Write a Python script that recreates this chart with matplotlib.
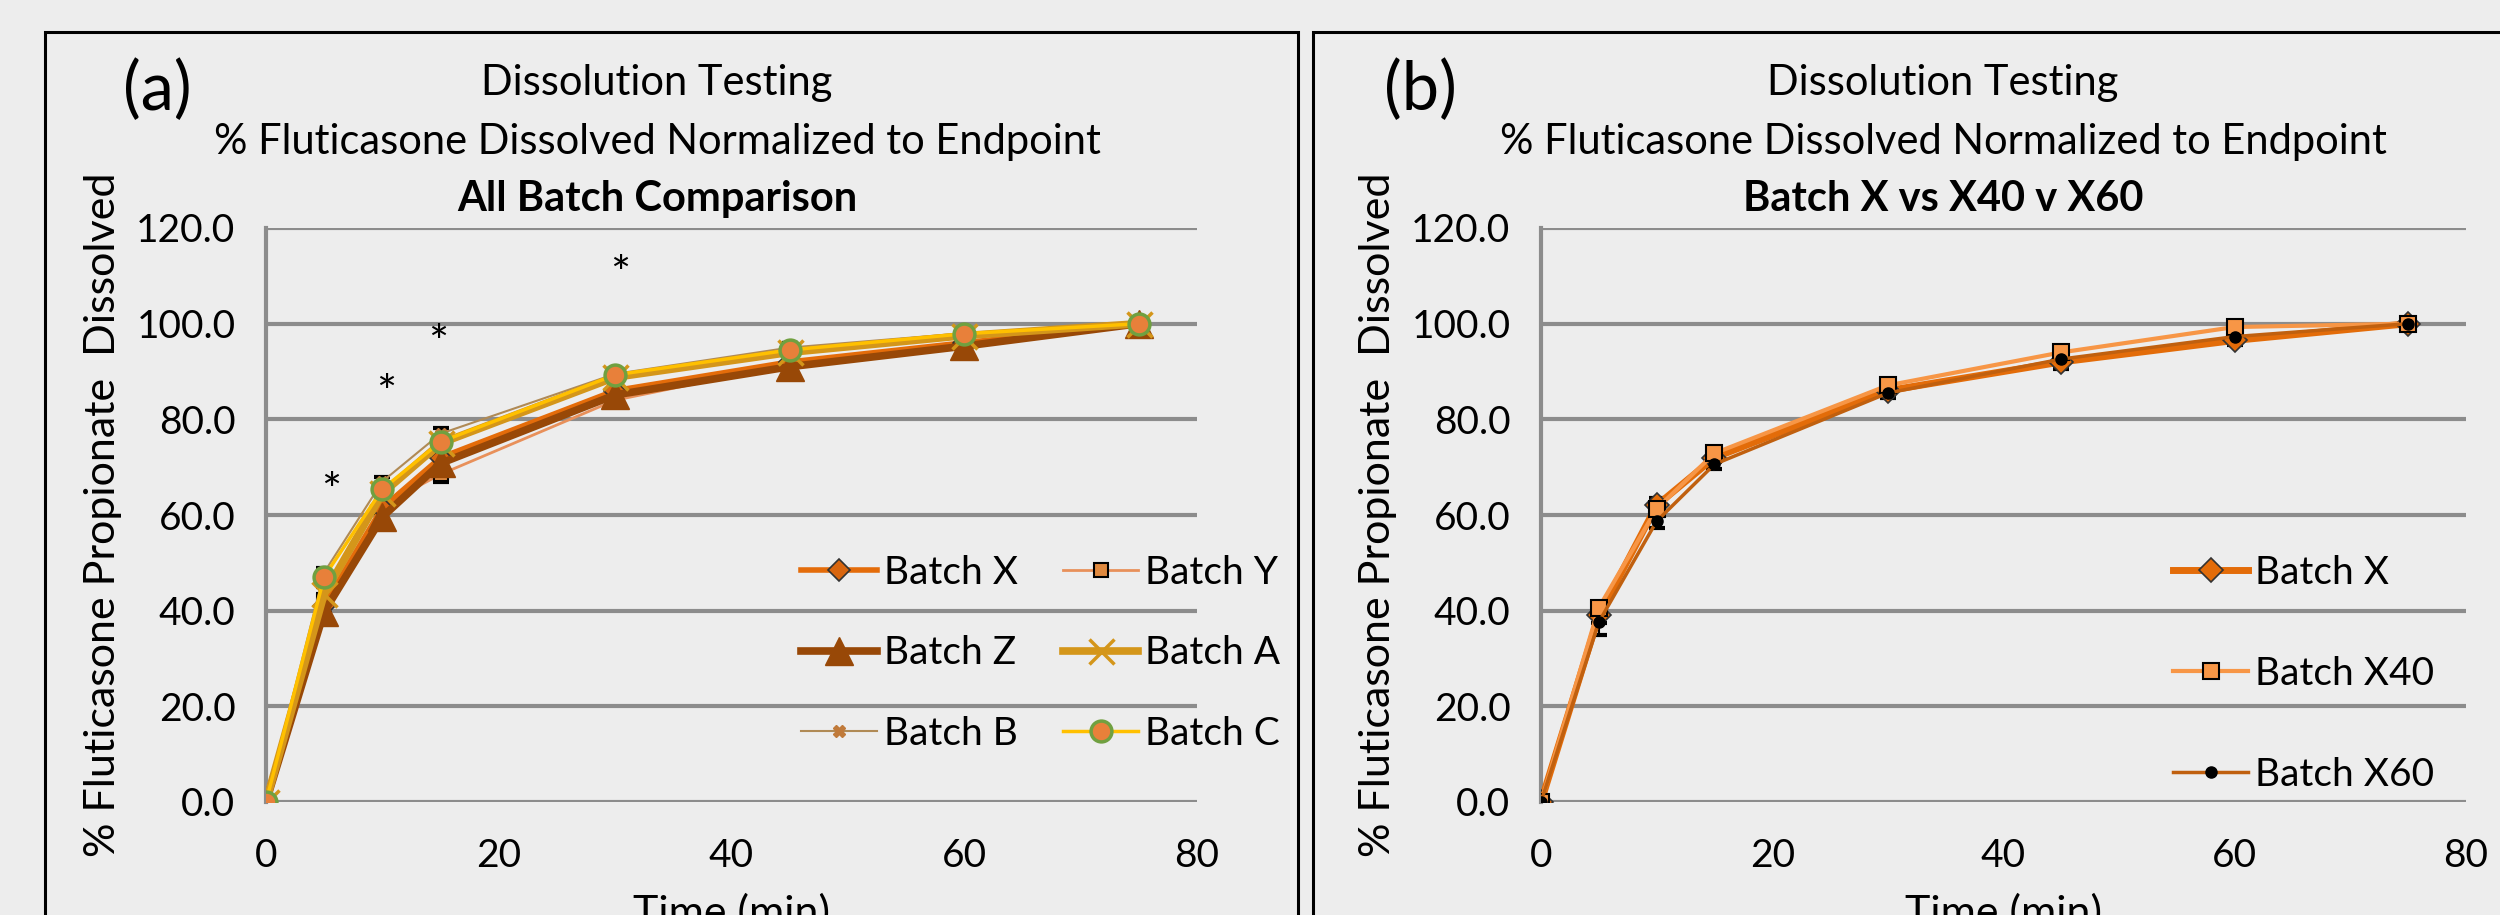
import matplotlib.pyplot as plt
from matplotlib.patches import Rectangle

plt.rcParams['font.family'] = ['Lato', 'DejaVu Sans']

# ---- data ----
time_min = [0, 5, 10, 15, 30, 45, 60, 75]

# panel (a): all batches
batch_x = [0, 41.0, 61.5, 72.0, 86.0, 92.0, 96.0, 100.0]
batch_y = [0, 42.0, 62.0, 68.5, 84.0, 91.5, 95.0, 100.0]
batch_z = [0, 39.8, 59.6, 70.8, 85.1, 91.0, 95.3, 100.0]
batch_a = [0, 43.5, 64.5, 75.0, 88.8, 94.0, 97.5, 100.0]
batch_b = [0, 48.0, 67.0, 77.0, 89.5, 95.0, 98.0, 100.0]
batch_c = [0, 47.1, 65.4, 75.3, 89.3, 94.5, 97.9, 100.0]
err_x = [0, 1.5, 1.0, 1.0, 1.0, 1.0, 0.8, 0]
err_y = [0, 1.5, 1.5, 1.5, 1.0, 1.0, 0.8, 0]
err_z = [0, 2.5, 1.0, 1.5, 1.0, 1.0, 0.8, 0]
err_a = [0, 1.5, 1.0, 1.0, 1.0, 1.0, 0.8, 0]
err_b = [0, 1.0, 1.0, 1.2, 1.0, 1.0, 0.8, 0]
err_c = [0, 1.5, 1.2, 1.2, 1.2, 1.5, 0.8, 0]
# significance asterisks
star_x = [5.6, 10.3, 14.8, 30.4]
star_y = [64.5, 85.0, 95.5, 110.0]

# panel (b): Batch X vs X40 vs X60
b_batch_x = [0, 39.0, 62.0, 72.0, 86.0, 92.0, 96.5, 100.0]
b_batch_x40 = [0, 40.6, 61.3, 72.9, 87.1, 94.0, 99.3, 100.0]
b_batch_x60 = [0, 37.6, 58.7, 70.6, 85.5, 92.6, 97.3, 100.0]
b_err_x = [0, 1.5, 1.5, 1.0, 1.0, 1.5, 1.0, 0]
b_err_x40 = [0, 1.0, 1.5, 1.0, 1.0, 1.0, 0.8, 0]
b_err_x60 = [0, 2.7, 1.5, 1.0, 1.0, 1.0, 0.8, 0]

y_ticks = [0, 20, 40, 60, 80, 100, 120]
x_ticks = [0, 20, 40, 60, 80]

bg = '#ededed'
grid_c = '#8c8c8c'
fs = 28        # ticks / legend
fs_title = 30
fs_lab = 31

fig = plt.figure(figsize=(25, 9.15), dpi=100)
fig.patch.set_facecolor(bg)

# panel frames
fig.add_artist(Rectangle((45 / 2500, -0.1), (1298 - 45) / 2500, 1.1 - 32 / 915,
                         transform=fig.transFigure, fill=False, ec='black', lw=2.2))
fig.add_artist(Rectangle((1313 / 2500, -0.1), 0.6, 1.1 - 32 / 915,
                         transform=fig.transFigure, fill=False, ec='black', lw=2.2))


def setup_axes(ax):
    ax.set_facecolor(bg)
    ax.set_xlim(0, 80)
    ax.set_ylim(0, 120)
    ax.set_yticks(y_ticks)
    ax.set_yticklabels(['%.1f' % v for v in y_ticks])
    ax.set_xticks(x_ticks)
    ax.tick_params(length=0, labelsize=fs, pad=22)
    ax.tick_params(axis='x', pad=26)
    for s in ['top', 'right', 'bottom']:
        ax.spines[s].set_visible(False)
    ax.spines['left'].set_color(grid_c)
    ax.spines['left'].set_linewidth(3)
    ax.grid(axis='y', color=grid_c, lw=3)
    ax.set_axisbelow(True)
    ax.set_ylabel('% Fluticasone Propionate  Dissolved', fontsize=fs_lab, labelpad=10)
    ax.set_xlabel('Time (min)', fontsize=fs_lab, labelpad=14)


def draw(ax, y, err, **kw):
    ax.errorbar(time_min, y, yerr=err, fmt='none', ecolor='black', elinewidth=1.5,
                capsize=6, capthick=3, zorder=2)
    ax.plot(time_min, y, zorder=3, **kw)


# ---- panel (a) ----
ax1 = fig.add_axes([266 / 2500, 113 / 915, 931 / 2500, 574 / 915])
setup_axes(ax1)
draw(ax1, batch_y, err_y, color='#e8905a', lw=2, marker='s', ms=10, mfc='#e08a40',
     mec='black', mew=1.5, label='Batch Y')
draw(ax1, batch_x, err_x, color='#e46c0a', lw=4, marker='D', ms=11, mfc='#d9660f',
     mec='#333333', mew=1.2, label='Batch X')
draw(ax1, batch_z, err_z, color='#984807', lw=5.5, marker='^', ms=20, mfc='#984807',
     mec='#984807', label='Batch Z')
draw(ax1, batch_b, err_b, color='#b08a55', lw=1.5, marker='X', ms=9, mfc='#c07a3a',
     mec='#c07a3a', label='Batch B')
draw(ax1, batch_a, err_a, color='#d4961a', lw=5.5, marker='x', ms=18, mec='#d4961a',
     mew=2.5, label='Batch A')
draw(ax1, batch_c, err_c, color='#ffc000', lw=2.5, marker='o', ms=15, mfc='#e8803a',
     mec='#70a040', mew=2.5, label='Batch C')
for sx, sy in zip(star_x, star_y):
    ax1.text(sx, sy, '*', fontsize=34, ha='center', va='center')

h, l = ax1.get_legend_handles_labels()
order = ['Batch X', 'Batch Y', 'Batch Z', 'Batch A', 'Batch B', 'Batch C']
hh = [h[l.index(n)] for n in order]
# ncol=2 fills column-wise: reorder so rows read X/Y, Z/A, B/C
col_order = [0, 2, 4, 1, 3, 5]
ax1.legend([hh[i] for i in col_order], [order[i] for i in col_order], ncol=2,
           loc='upper left', bbox_to_anchor=(0.558, 0.458), frameon=False,
           fontsize=fs, handlelength=1.95, handletextpad=0.18, columnspacing=1.15,
           labelspacing=1.15, borderaxespad=0)

fig.text(657 / 2500, 1 - 83 / 915, 'Dissolution Testing', fontsize=fs_title,
         ha='center', va='center')
fig.text(657 / 2500, 1 - 142 / 915, '% Fluticasone Dissolved Normalized to Endpoint',
         fontsize=fs_title, ha='center', va='center')
fig.text(657 / 2500, 1 - 199 / 915, 'All Batch Comparison', fontsize=fs_title,
         fontweight='bold', ha='center', va='center')
fig.text(157 / 2500, 1 - 91 / 915, '(a)', fontsize=48, ha='center', va='center')

# ---- panel (b) ----
ax2 = fig.add_axes([1541 / 2500, 113 / 915, 925 / 2500, 574 / 915])
setup_axes(ax2)
draw(ax2, b_batch_x, b_err_x, color='#e36c09', lw=5, marker='D', ms=12, mfc='#e36c09',
     mec='#333333', mew=1.2, label='Batch X')
draw(ax2, b_batch_x40, b_err_x40, color='#f79646', lw=3, marker='s', ms=12, mfc='#f79646',
     mec='black', mew=1.5, label='Batch X40')
draw(ax2, b_batch_x60, b_err_x60, color='#c0600f', lw=2.5, marker='o', ms=8, mfc='black',
     mec='black', label='Batch X60')
ax2.legend(loc='upper left', bbox_to_anchor=(0.666, 0.458), frameon=False, fontsize=fs,
           handlelength=1.95, handletextpad=0.18, labelspacing=1.67, borderaxespad=0)

fig.text(1943 / 2500, 1 - 83 / 915, 'Dissolution Testing', fontsize=fs_title,
         ha='center', va='center')
fig.text(1943 / 2500, 1 - 142 / 915, '% Fluticasone Dissolved Normalized to Endpoint',
         fontsize=fs_title, ha='center', va='center')
fig.text(1943 / 2500, 1 - 199 / 915, 'Batch X vs X40 v X60', fontsize=fs_title,
         fontweight='bold', ha='center', va='center')
fig.text(1420 / 2500, 1 - 91 / 915, '(b)', fontsize=48, ha='center', va='center')

fig.savefig('out.png', dpi=100, facecolor=bg)
